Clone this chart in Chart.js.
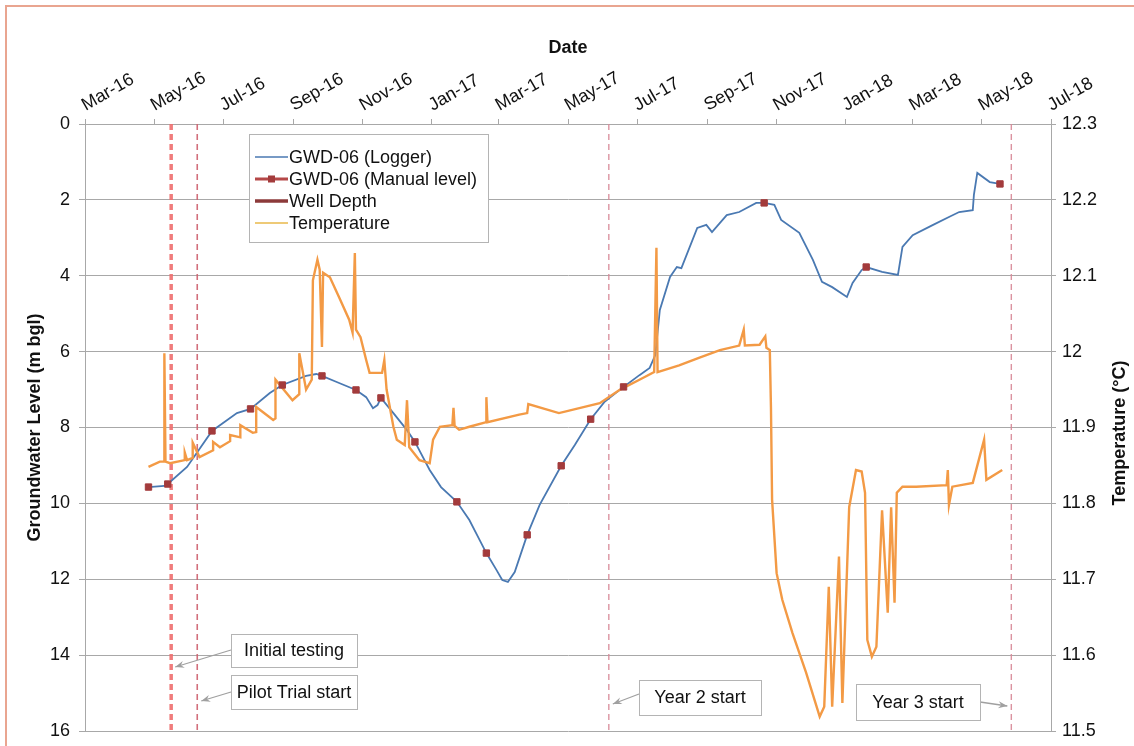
<!DOCTYPE html>
<html><head><meta charset="utf-8">
<script src="https://cdn.jsdelivr.net/npm/chart.js@4"></script>
<style>
html,body{margin:0;padding:0;background:#fff;}
#wrap{position:relative;width:1134px;height:746px;overflow:hidden;background:#fff;}
#frame{position:absolute;left:5px;top:5px;width:1300px;height:900px;border-left:2px solid #e9a590;border-top:2px solid #e9a590;pointer-events:none;}
canvas{position:absolute;left:0;top:0;}
</style></head><body>
<div id="wrap"><canvas id="c" width="1134" height="746"></canvas><div id="frame"></div></div>
<script>
// ---------- data ----------
const xTickDates = ['2016-03-01','2016-05-01','2016-07-01','2016-09-01','2016-11-01','2017-01-01','2017-03-01','2017-05-01','2017-07-01','2017-09-01','2017-11-01','2018-01-01','2018-03-01','2018-05-01','2018-07-01'];
const xTickLabels = ['Mar-16','May-16','Jul-16','Sep-16','Nov-16','Jan-17','Mar-17','May-17','Jul-17','Sep-17','Nov-17','Jan-18','Mar-18','May-18','Jul-18'];
const levelTicks = [0,2,4,6,8,10,12,14,16];
const tempTicks = [11.5,11.6,11.7,11.8,11.9,12.0,12.1,12.2,12.3];
const seriesNames = ['GWD-06 (Logger)','GWD-06 (Manual level)','Well Depth','Temperature'];

const loggerDates = ['2016-04-26','2016-05-10','2016-05-13','2016-05-30','2016-06-21','2016-07-13','2016-07-25','2016-08-11','2016-08-22','2016-09-12','2016-09-21','2016-09-26','2016-10-09','2016-10-26','2016-11-04','2016-11-10','2016-11-14','2016-11-17','2016-11-28','2016-12-10','2016-12-17','2016-12-30','2017-01-09','2017-01-23','2017-02-03','2017-02-12','2017-02-18','2017-02-27','2017-03-04','2017-03-09','2017-03-15','2017-03-26','2017-04-06','2017-04-25','2017-05-07','2017-05-21','2017-06-02','2017-06-19','2017-07-03','2017-07-12','2017-07-17','2017-07-21','2017-07-30','2017-08-05','2017-08-09','2017-08-23','2017-08-31','2017-09-05','2017-09-18','2017-09-29','2017-10-14','2017-10-21','2017-10-30','2017-11-05','2017-11-21','2017-12-03','2017-12-11','2017-12-20','2018-01-02','2018-01-07','2018-01-15','2018-01-19','2018-02-02','2018-02-16','2018-02-20','2018-03-01','2018-03-19','2018-04-02','2018-04-11','2018-04-23','2018-04-24','2018-04-27','2018-05-08','2018-05-17'];
const loggerDepth = [9.57,9.54,9.49,9.04,8.09,7.62,7.51,7.09,6.88,6.64,6.59,6.64,6.80,7.01,7.20,7.49,7.41,7.22,7.62,8.07,8.38,9.12,9.57,9.96,10.44,10.96,11.31,11.76,12.02,12.07,11.81,10.83,10.04,9.01,8.46,7.78,7.33,6.93,6.62,6.43,6.09,4.90,4.03,3.77,3.80,2.74,2.66,2.85,2.40,2.32,2.08,2.08,2.13,2.53,2.87,3.58,4.16,4.30,4.56,4.19,3.85,3.77,3.90,3.98,3.24,2.93,2.66,2.45,2.32,2.27,1.87,1.29,1.53,1.58];

const manualDates = ['2016-04-26','2016-05-13','2016-06-21','2016-07-25','2016-08-22','2016-09-26','2016-10-26','2016-11-17','2016-12-17','2017-01-23','2017-02-18','2017-03-26','2017-04-25','2017-05-21','2017-06-19','2017-10-21','2018-01-19','2018-05-17'];
const manualDepth = [9.57,9.49,8.09,7.51,6.88,6.64,7.01,7.22,8.38,9.96,11.31,10.83,9.01,7.78,6.93,2.08,3.77,1.58];

const wellDepthDates = [];
const wellDepthValues = [];

const tempDates = ['2016-04-26','2016-05-06','2016-05-10','2016-05-10','2016-05-11','2016-05-15','2016-05-28','2016-05-28','2016-05-30','2016-06-04','2016-06-04','2016-06-10','2016-06-22','2016-06-22','2016-06-28','2016-07-07','2016-07-07','2016-07-16','2016-07-16','2016-07-27','2016-07-30','2016-07-30','2016-08-14','2016-08-16','2016-08-16','2016-08-31','2016-09-06','2016-09-06','2016-09-12','2016-09-17','2016-09-18','2016-09-22','2016-09-24','2016-09-26','2016-09-27','2016-10-03','2016-10-11','2016-10-20','2016-10-23','2016-10-25','2016-10-26','2016-10-30','2016-11-04','2016-11-07','2016-11-18','2016-11-20','2016-11-22','2016-11-28','2016-12-01','2016-12-08','2016-12-10','2016-12-12','2016-12-21','2016-12-30','2017-01-02','2017-01-08','2017-01-19','2017-01-20','2017-01-21','2017-01-25','2017-02-03','2017-02-18','2017-02-18','2017-02-19','2017-03-19','2017-03-26','2017-03-27','2017-04-23','2017-05-29','2017-06-16','2017-07-03','2017-07-16','2017-07-18','2017-07-19','2017-08-07','2017-08-25','2017-09-12','2017-09-29','2017-10-03','2017-10-04','2017-10-17','2017-10-22','2017-10-23','2017-10-26','2017-10-27','2017-10-28','2017-11-01','2017-11-06','2017-11-15','2017-11-27','2017-12-09','2017-12-13','2017-12-17','2017-12-20','2017-12-26','2017-12-29','2018-01-04','2018-01-10','2018-01-15','2018-01-18','2018-01-20','2018-01-24','2018-01-28','2018-02-02','2018-02-07','2018-02-10','2018-02-13','2018-02-15','2018-02-20','2018-03-04','2018-03-31','2018-04-01','2018-04-02','2018-04-05','2018-04-23','2018-05-03','2018-05-05','2018-05-19'];
const tempValues = [11.848,11.855,11.855,11.998,11.855,11.853,11.857,11.867,11.857,11.860,11.880,11.861,11.870,11.881,11.874,11.882,11.890,11.887,11.903,11.893,11.894,11.927,11.910,11.912,11.963,11.936,11.944,11.998,11.950,11.963,12.094,12.121,12.108,12.006,12.104,12.098,12.072,12.042,12.025,12.130,12.029,12.019,11.989,11.972,11.972,11.989,11.950,11.901,11.884,11.877,11.936,11.874,11.857,11.853,11.884,11.901,11.903,11.926,11.902,11.897,11.901,11.907,11.940,11.907,11.917,11.919,11.931,11.919,11.932,11.950,11.963,11.973,12.137,11.973,11.982,11.992,12.002,12.008,12.029,12.008,12.009,12.020,12.005,12.002,11.927,11.805,11.708,11.673,11.629,11.577,11.519,11.532,11.690,11.532,11.730,11.537,11.795,11.844,11.842,11.814,11.620,11.598,11.611,11.791,11.656,11.795,11.669,11.814,11.822,11.822,11.824,11.844,11.798,11.822,11.827,11.884,11.831,11.844];

const eventDates = ['2016-05-16','2016-06-08','2017-06-06','2018-05-27'];
const eventLabels = ['Initial testing','Pilot Trial start','Year 2 start','Year 3 start'];

// ---------- helpers ----------
const BASE = Date.UTC(2016,2,1);
function toDay(s){ return (Date.UTC(+s.slice(0,4), +s.slice(5,7)-1, +s.slice(8,10)) - BASE)/864e5; }
function pts(dates, vals){ return dates.map((d,i)=>({x:toDay(d), y:vals[i]})); }

const FONT = "'Liberation Sans', Arial, sans-serif";
const GRID = '#a8a8a8';
const BLUE = '#4a79b2';
const ORANGE = '#f39a45';
const RED = '#a33b3c';
const WELL = '#8c3a3a';

const eventStyles = [
  {color:'rgba(238,110,110,0.9)', width:3.5},
  {color:'rgba(205,95,110,0.9)', width:1.6},
  {color:'rgba(215,135,150,0.9)', width:1.4},
  {color:'rgba(215,135,150,0.9)', width:1.4}
];
const eventDatasets = eventDates.map((d,i)=>({
  label: eventLabels[i],
  data: [{x:toDay(d), y:levelTicks[0]}, {x:toDay(d), y:levelTicks[levelTicks.length-1]}],
  yAxisID:'y', borderColor: eventStyles[i].color, borderWidth: eventStyles[i].width,
  borderDash:[6,4], pointRadius:0, order:5, showLine:true
}));

// annotation boxes (layout only)
const annoLayout = [
  {box:[231,634,126,33], from:[231,650], toY:667, dir:1},
  {box:[231,675,126,34], from:[231,692], toY:701, dir:1},
  {box:[639,680,122,35], from:[639,694], toY:704, dir:1},
  {box:[856,684,124,36], from:[980,702], toY:706, dir:-1}
];

const overlayPlugin = {
  id:'overlay',
  afterDatasetsDraw(chart){
    const ctx = chart.ctx, xs = chart.scales.x;
    ctx.save();
    annoLayout.forEach((a,i)=>{
      const lx = xs.getPixelForValue(toDay(eventDates[i]));
      const ex = lx + 4*a.dir, ey = a.toY;
      const [sx,sy] = a.from;
      ctx.strokeStyle = '#a0a0a0'; ctx.fillStyle = '#a0a0a0'; ctx.lineWidth = 1.3;
      ctx.beginPath(); ctx.moveTo(sx,sy); ctx.lineTo(ex,ey); ctx.stroke();
      const ang = Math.atan2(ey-sy, ex-sx);
      ctx.beginPath();
      ctx.moveTo(ex,ey);
      ctx.lineTo(ex-9*Math.cos(ang)+3.5*Math.sin(ang), ey-9*Math.sin(ang)-3.5*Math.cos(ang));
      ctx.lineTo(ex-6*Math.cos(ang), ey-6*Math.sin(ang));
      ctx.lineTo(ex-9*Math.cos(ang)-3.5*Math.sin(ang), ey-9*Math.sin(ang)+3.5*Math.cos(ang));
      ctx.closePath(); ctx.fill();
      const [bx,by,bw,bh] = a.box;
      ctx.fillStyle = '#fff'; ctx.fillRect(bx,by,bw,bh);
      ctx.strokeStyle = '#b4b4b4'; ctx.lineWidth = 1;
      ctx.strokeRect(bx+0.5,by+0.5,bw,bh);
      ctx.fillStyle = '#111'; ctx.font = '18px '+FONT; ctx.textAlign='center'; ctx.textBaseline='middle';
      ctx.fillText(eventLabels[i], bx+bw/2, by+bh/2+1);
    });
    const L = {x:249, y:134, w:239, h:108};
    ctx.fillStyle = '#fff'; ctx.fillRect(L.x,L.y,L.w,L.h);
    ctx.strokeStyle = '#b4b4b4'; ctx.lineWidth = 1; ctx.strokeRect(L.x+0.5,L.y+0.5,L.w,L.h);
    const rowY = [157,179,201,223];
    const styles = [
      {c:BLUE, w:1.5, marker:false},
      {c:'#b54848', w:3, marker:true},
      {c:WELL, w:3.5, marker:false},
      {c:'#e8b84a', w:1.5, marker:false}
    ];
    seriesNames.forEach((n,i)=>{
      const y = rowY[i], s = styles[i];
      ctx.strokeStyle = s.c; ctx.lineWidth = s.w;
      ctx.beginPath(); ctx.moveTo(255,y); ctx.lineTo(288,y); ctx.stroke();
      if (s.marker){ ctx.fillStyle = RED; ctx.fillRect(268,y-3.5,7,7); }
      ctx.fillStyle = '#111'; ctx.font = '18px '+FONT; ctx.textAlign='left'; ctx.textBaseline='middle';
      ctx.fillText(n, 289, y+1);
    });
    ctx.translate(1120, 433); ctx.rotate(-Math.PI/2);
    ctx.fillStyle = '#111'; ctx.font = 'bold 18px '+FONT; ctx.textAlign='center'; ctx.textBaseline='middle';
    ctx.fillText('Temperature (\u00B0C)', 0, 0);
    ctx.restore();
  }
};

new Chart(document.getElementById('c'), {
  type:'line',
  data:{ datasets:[
    {label:seriesNames[0], data:pts(loggerDates, loggerDepth), yAxisID:'y', borderColor:BLUE, borderWidth:1.8, pointRadius:0, tension:0, order:3},
    {label:seriesNames[1], data:pts(manualDates, manualDepth), yAxisID:'y', showLine:false, pointStyle:'rect', pointRadius:4.5, pointBackgroundColor:RED, pointBorderColor:RED, borderColor:RED, order:0},
    {label:seriesNames[2], data:pts(wellDepthDates, wellDepthValues), yAxisID:'y', borderColor:WELL, borderWidth:3, pointRadius:0, order:4},
    {label:seriesNames[3], data:pts(tempDates, tempValues), yAxisID:'y2', borderColor:ORANGE, borderWidth:2.4, pointRadius:0, tension:0, order:1},
    ...eventDatasets
  ]},
  options:{
    responsive:false, animation:false, devicePixelRatio:1,
    layout:{padding:{left:20, top:33, right:0, bottom:15}},
    plugins:{legend:{display:false}, tooltip:{enabled:false}},
    scales:{
      x:{type:'linear', position:'top', min:toDay(xTickDates[0]), max:toDay(xTickDates[xTickDates.length-1]),
        afterBuildTicks:(s)=>{ s.ticks = xTickDates.map(d=>({value:toDay(d)})); },
        afterFit:(s)=>{ s.height = 91; s.paddingLeft = 0; s.paddingRight = 0; },
        ticks:{autoSkip:false, minRotation:30, maxRotation:30, padding:3, labelOffset:9, color:'#111', font:{family:FONT, size:18},
          callback:(v,i)=>xTickLabels[i]},
        grid:{drawOnChartArea:false, drawTicks:true, tickLength:5, color:GRID},
        border:{display:true, color:GRID},
        title:{display:true, text:'Date', color:'#111', font:{family:FONT, size:18, weight:'bold'}, padding:{top:4,bottom:4}}
      },
      y:{type:'linear', position:'left', reverse:true, min:levelTicks[0], max:levelTicks[levelTicks.length-1],
        afterBuildTicks:(s)=>{ s.ticks = levelTicks.map(v=>({value:v})); },
        afterFit:(s)=>{ s.width = 65; s.paddingTop = 0; s.paddingBottom = 0; },
        ticks:{padding:9, color:'#111', font:{family:FONT, size:18}},
        grid:{color:GRID, tickLength:6, lineWidth:1},
        border:{display:true, color:GRID},
        title:{display:true, text:'Groundwater Level (m bgl)', color:'#111', font:{family:FONT, size:18, weight:'bold'}, padding:{top:4,bottom:4}}
      },
      y2:{type:'linear', position:'right', min:tempTicks[0], max:tempTicks[tempTicks.length-1],
        afterBuildTicks:(s)=>{ s.ticks = tempTicks.map(v=>({value:v})); },
        afterFit:(s)=>{ s.width = 83; s.paddingTop = 0; s.paddingBottom = 0; },
        ticks:{padding:6, color:'#111', font:{family:FONT, size:18}, callback:(v)=>String(Number(v.toFixed(1)))},
        grid:{drawOnChartArea:false, color:GRID, tickLength:5},
        border:{display:true, color:GRID}
      }
    }
  },
  plugins:[overlayPlugin]
});
</script>
</body></html>
